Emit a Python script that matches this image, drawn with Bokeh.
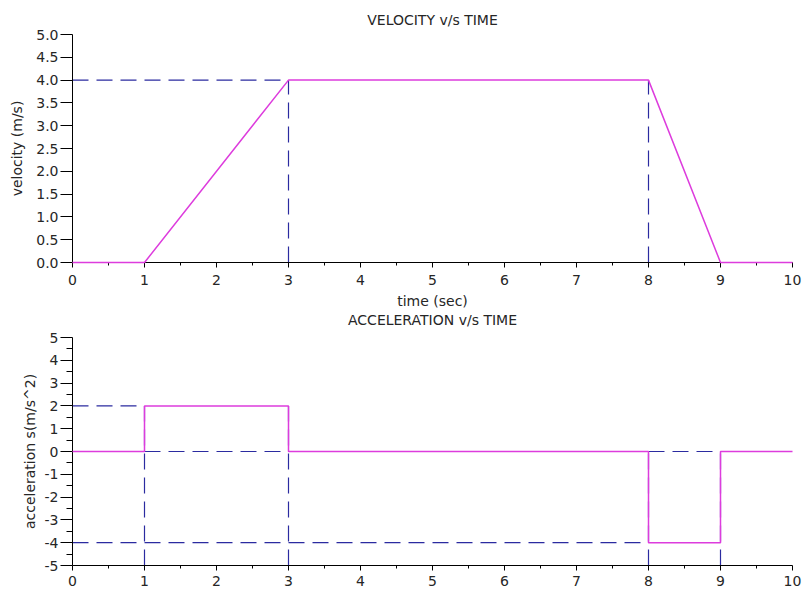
from bokeh.plotting import figure
from bokeh.layouts import column
from bokeh.models import FixedTicker, Range1d, NumeralTickFormatter, CustomJSTickFormatter, Title
from bokeh.embed import file_html
from bokeh.resources import INLINE

# ---- data ----
time_v = [0, 1, 3, 8, 9, 10]
velocity = [0, 0, 4, 4, 0, 0]

time_a = [0, 1, 1, 3, 3, 8, 8, 9, 9, 10]
acceleration = [0, 0, 2, 2, 0, 0, -4, -4, 0, 0]

# dashed guide segments (x pairs, y pairs)
vel_guide_xs = [[0, 3], [3, 3], [8, 8]]
vel_guide_ys = [[4, 4], [0, 4], [0, 4]]

acc_guide_xs = [[0, 1], [0, 10], [0, 8], [1, 1], [3, 3], [8, 8], [9, 9]]
acc_guide_ys = [[2, 2], [0, 0], [-4, -4], [-5, 2], [-5, 2], [-5, 0], [-5, 0]]

x_ticks = [0, 1, 2, 3, 4, 5, 6, 7, 8, 9, 10]
x_minor = [0.5, 1.5, 2.5, 3.5, 4.5, 5.5, 6.5, 7.5, 8.5, 9.5]
vel_ticks = [0.0, 0.5, 1.0, 1.5, 2.0, 2.5, 3.0, 3.5, 4.0, 4.5, 5.0]
acc_ticks = [-5, -4, -3, -2, -1, 0, 1, 2, 3, 4, 5]
acc_minor = [-4.5, -3.5, -2.5, -1.5, -0.5, 0.5, 1.5, 2.5, 3.5, 4.5]

FONT = "DejaVu Sans"
PINK = "#dd3cdd"
BLUE = "#2b2ba0"
TXT = "#262626"


def style_title(t, standoff, valign):
    t.align = "center"
    t.vertical_align = valign
    t.text_font = FONT
    t.text_font_size = "14px"
    t.text_font_style = "normal"
    t.text_color = TXT
    t.text_line_height = 0.7
    t.standoff = standoff


def style(p):
    p.grid.visible = False
    p.outline_line_color = None
    for ax in (p.xaxis[0], p.yaxis[0]):
        ax.axis_line_color = "black"
        ax.major_tick_line_color = "black"
        ax.minor_tick_line_color = "black"
        ax.major_tick_in = 0
        ax.minor_tick_in = 0
        ax.major_label_text_font = FONT
        ax.major_label_text_font_size = "14px"
        ax.major_label_text_color = TXT
        ax.axis_label_text_font = FONT
        ax.axis_label_text_font_size = "14px"
        ax.axis_label_text_font_style = "normal"
        ax.axis_label_text_color = TXT
    p.xaxis[0].major_tick_out = 5
    p.xaxis[0].minor_tick_out = 3
    p.yaxis[0].major_tick_out = 12
    p.yaxis[0].minor_tick_out = 6
    p.xaxis[0].major_label_standoff = 7
    p.yaxis[0].major_label_standoff = 2
    p.yaxis[0].axis_label_standoff = 8
    p.xaxis[0].axis_label_standoff = 5


p1 = figure(frame_width=720, frame_height=228, output_backend="svg", toolbar_location=None,
            x_range=Range1d(0, 10), y_range=Range1d(0, 5),
            min_border_left=72, min_border_right=12, min_border_top=34, min_border_bottom=60,
            background_fill_color="white", border_fill_color="white")
p1.title.text = "VELOCITY v/s TIME"
style_title(p1.title, 12, "middle")
style(p1)
p1.xaxis[0].ticker = FixedTicker(ticks=x_ticks, minor_ticks=x_minor)
p1.yaxis[0].ticker = FixedTicker(ticks=vel_ticks)
p1.yaxis[0].formatter = NumeralTickFormatter(format="0.0")
p1.xaxis[0].axis_label = "time (sec)"
p1.yaxis[0].axis_label = "velocity (m/s)"
p1.multi_line(vel_guide_xs, vel_guide_ys, line_color=BLUE, line_width=1.2, line_dash="16 8")
p1.line(time_v, velocity, line_color=PINK, line_width=1.5, level="overlay")

# title of the lower chart, placed right under the upper chart's axis label
acc_title = Title(text="ACCELERATION v/s TIME")
style_title(acc_title, 0, "top")
p1.add_layout(acc_title, "below")

p2 = figure(frame_width=720, frame_height=228, output_backend="svg", toolbar_location=None,
            x_range=Range1d(0, 10), y_range=Range1d(-5, 5),
            min_border_left=72, min_border_right=12, min_border_top=8, min_border_bottom=24,
            background_fill_color="white", border_fill_color="white")
style(p2)
p2.yaxis[0].axis_label_standoff = 4
p2.xaxis[0].major_label_standoff = 5
p2.xaxis[0].ticker = FixedTicker(ticks=x_ticks, minor_ticks=x_minor)
p2.yaxis[0].ticker = FixedTicker(ticks=acc_ticks, minor_ticks=acc_minor)
p2.yaxis[0].formatter = CustomJSTickFormatter(code="return tick.toFixed(0);")
p2.yaxis[0].axis_label = "acceleration s(m/s^2)"
p2.multi_line(acc_guide_xs, acc_guide_ys, line_color=BLUE, line_width=1.2, line_dash="16 8")
p2.line(time_a, acceleration, line_color=PINK, line_width=1.5, level="overlay")

layout = column(p1, p2, spacing=0)
open("out.html", "w").write(file_html(layout, INLINE))
